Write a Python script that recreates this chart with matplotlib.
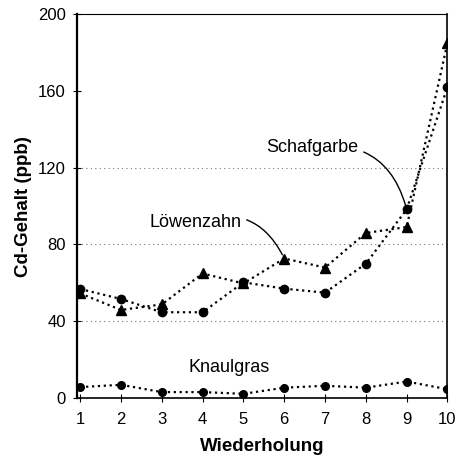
import matplotlib
matplotlib.use("Agg")
import matplotlib.pyplot as plt

plt.rcParams['font.family'] = ['Liberation Sans', 'DejaVu Sans']

# Wiederholung 1..10
wiederholung = [1, 2, 3, 4, 5, 6, 7, 8, 9, 10]
schafgarbe = [56.8, 51.6, 44.7, 44.7, 60.3, 57.0, 54.9, 70.0, 98.3, 162.0]
loewenzahn = [54.5, 45.9, 48.8, 64.9, 59.7, 72.7, 68.0, 86.0, 89.1, 185.0]
knaulgras = [5.7, 6.9, 3.1, 3.1, 2.2, 5.4, 6.4, 5.4, 8.6, 4.6]

yticks = [0, 40, 80, 120, 160, 200]
grid_lines = [40, 80, 120]

fig = plt.figure(figsize=(4.58, 4.57), dpi=100)
ax = fig.add_axes([0.168, 0.129, 0.809, 0.840])

for y in grid_lines:
    ax.axhline(y, color='#777777', linestyle=(0, (1, 3)), linewidth=0.8, zorder=0)

ax.plot(wiederholung, schafgarbe, linestyle=':', color='black', linewidth=1.6,
        marker='o', markersize=6, zorder=3)
ax.plot(wiederholung, loewenzahn, linestyle=':', color='black', linewidth=1.6,
        marker='^', markersize=7, zorder=3)
ax.plot(wiederholung, knaulgras, linestyle=':', color='black', linewidth=1.6,
        marker='o', markersize=5.5, zorder=3)

ax.set_xlim(0.92, 10)
ax.set_ylim(0, 200)
ax.set_xticks(wiederholung)
ax.set_yticks(yticks)
ax.tick_params(direction='inout', length=6, width=0.8, labelsize=12)
ax.tick_params(axis='x', pad=7)
ax.tick_params(axis='y', pad=5)

ax.spines['left'].set_linewidth(1.6)
ax.spines['bottom'].set_linewidth(1.2)
ax.spines['right'].set_linewidth(1.2)
ax.spines['top'].set_linewidth(0.8)

ax.set_xlabel('Wiederholung', fontsize=13.5, fontweight='bold', labelpad=8)
ax.set_ylabel('Cd-Gehalt (ppb)', fontsize=13.5, fontweight='bold', labelpad=4)

ax.annotate('Schafgarbe', xy=(9, schafgarbe[8]), xytext=(5.56, 130.5),
            fontsize=13, va='center', ha='left',
            arrowprops=dict(arrowstyle='-', color='black', linewidth=1.0,
                            connectionstyle='arc3,rad=-0.45', shrinkA=2, shrinkB=3))
ax.annotate('Löwenzahn', xy=(6, loewenzahn[5]), xytext=(3.82, 91.6),
            fontsize=13, va='center', ha='center',
            arrowprops=dict(arrowstyle='-', color='black', linewidth=1.0,
                            connectionstyle='arc3,rad=-0.45', shrinkA=2, shrinkB=3))
ax.text(4.64, 15.7, 'Knaulgras', fontsize=13, va='center', ha='center')

fig.savefig('out.png', dpi=100)
